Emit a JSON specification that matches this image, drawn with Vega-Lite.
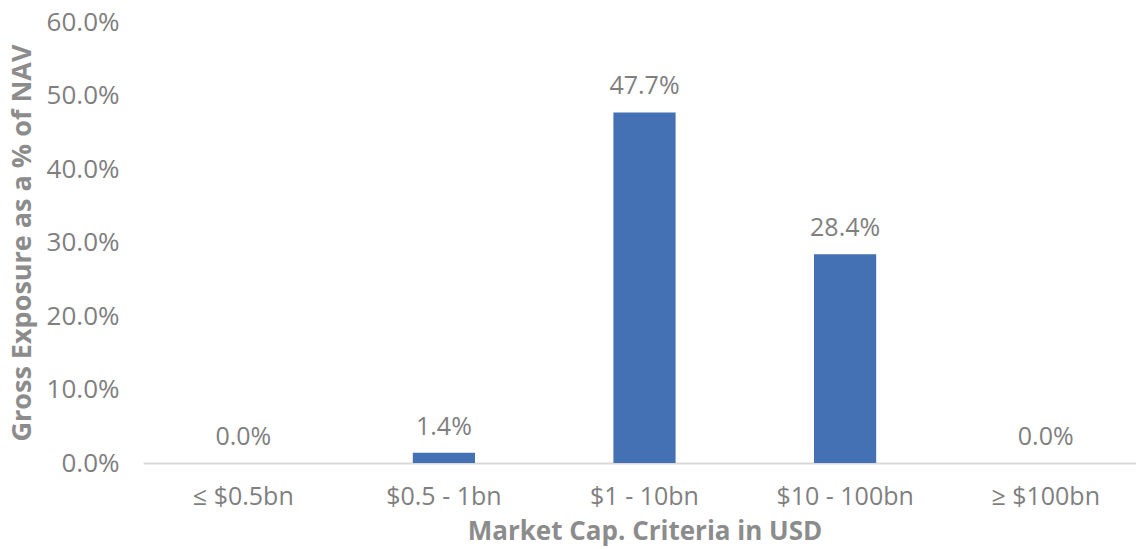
{
  "$schema": "https://vega.github.io/schema/vega-lite/v6.json",
  "autosize": {"type": "none"},
  "width": 1003,
  "height": 441,
  "padding": {"left": 143, "top": 22, "right": 0, "bottom": 86},
  "background": "white",
  "config": {"view": {"stroke": null}, "font": "Open Sans"},
  "data": {"values": [
    {"cat": "≤ $0.5bn", "value": 0.0},
    {"cat": "$0.5 - 1bn", "value": 0.014},
    {"cat": "$1 - 10bn", "value": 0.477},
    {"cat": "$10 - 100bn", "value": 0.284},
    {"cat": "≥ $100bn", "value": 0.0}
  ]},
  "encoding": {
    "x": {
      "field": "cat", "type": "nominal", "sort": null,
      "scale": {"paddingInner": 0.69, "paddingOuter": 0.345},
      "axis": {
        "title": "Market Cap. Criteria in USD",
        "titleFont": "Open Sans", "titleFontSize": 26, "titleFontWeight": "bold", "titleColor": "#8c8c8c",
        "titlePadding": 9,
        "labelFont": "Open Sans", "labelFontSize": 25, "labelColor": "#7f7f7f", "labelAngle": 0,
        "labelPadding": 21,
        "ticks": false, "domainColor": "#d9d9d9", "domainWidth": 2, "grid": false
      }
    },
    "y": {
      "field": "value", "type": "quantitative",
      "scale": {"domain": [0, 0.6]},
      "axis": {
        "title": "Gross Exposure as a % of NAV",
        "titleFont": "Open Sans", "titleFontSize": 27, "titleFontWeight": "bold", "titleColor": "#8c8c8c",
        "titlePadding": 10,
        "values": [0, 0.1, 0.2, 0.3, 0.4, 0.5, 0.6],
        "format": ".1%",
        "labelFont": "Open Sans", "labelFontSize": 26, "labelColor": "#7f7f7f",
        "labelPadding": 24,
        "ticks": false, "domain": false, "grid": false
      }
    }
  },
  "layer": [
    {"mark": {"type": "bar", "color": "#4371B4"}},
    {
      "mark": {"type": "text", "baseline": "bottom", "dy": -13, "fontSize": 25, "color": "#7f7f7f", "font": "Open Sans"},
      "encoding": {"text": {"field": "value", "type": "quantitative", "format": ".1%"}}
    }
  ]
}
